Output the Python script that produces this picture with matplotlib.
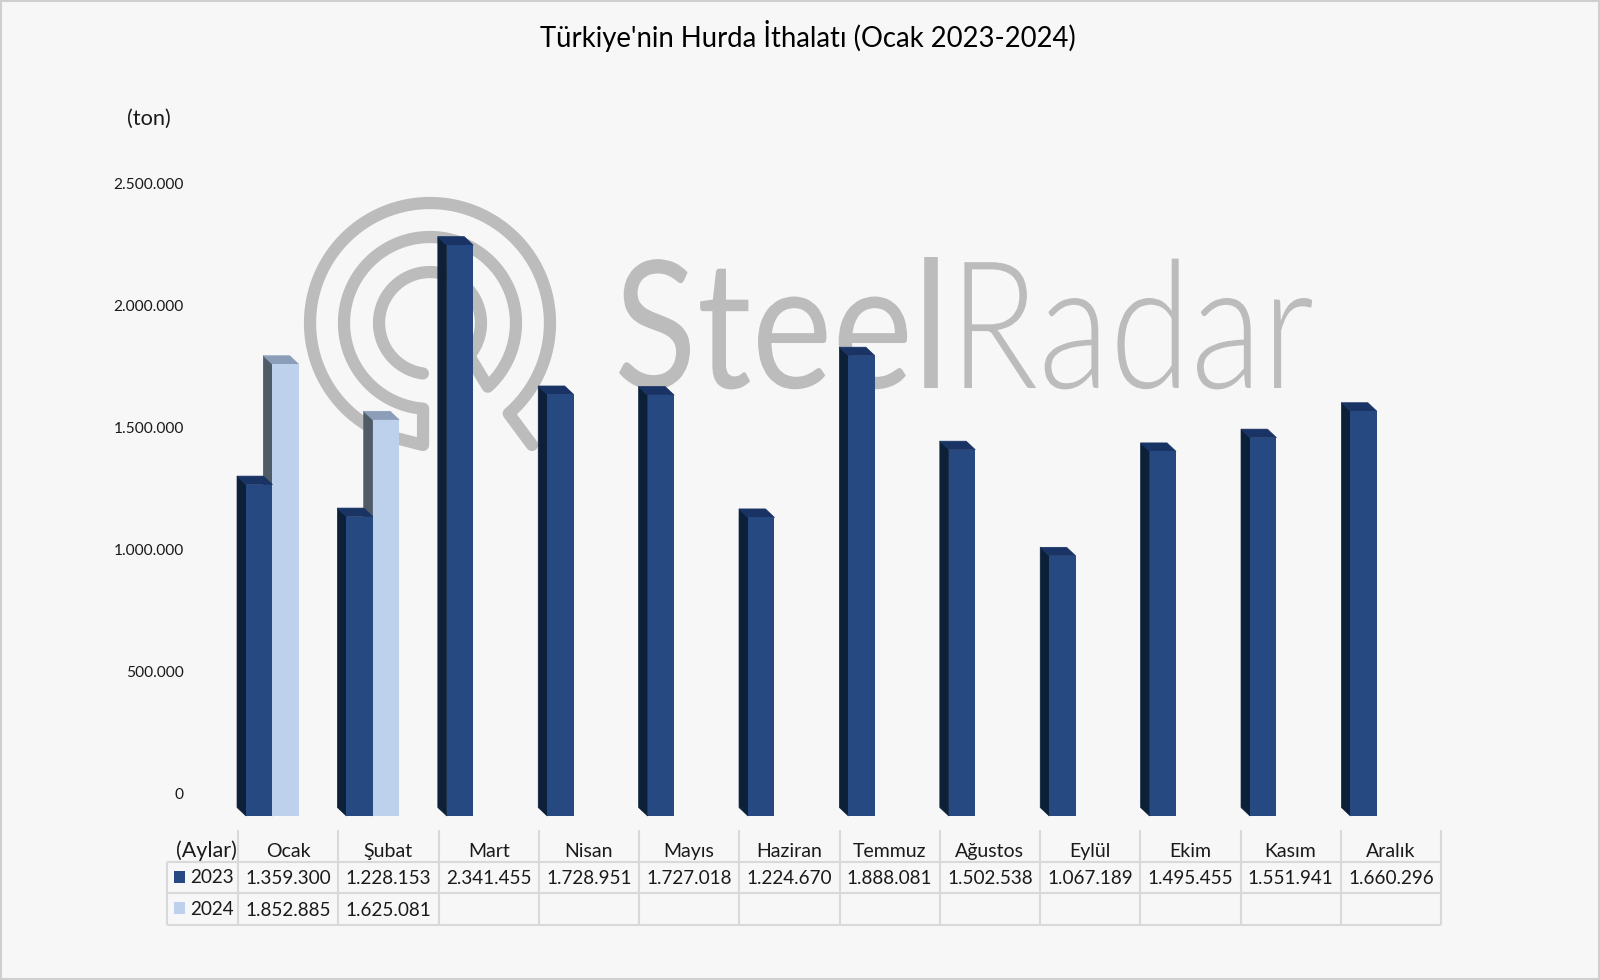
#!/usr/bin/env python3
"""Türkiye'nin hurda ithalatı, Ocak 2023-2024 (Excel tarzı 3B sütun + veri tablosu)"""

import numpy as np
import matplotlib
matplotlib.use('Agg')
import matplotlib.pyplot as plt
from matplotlib.patches import Polygon, Rectangle
from matplotlib.patheffects import AbstractPathEffect
from matplotlib.transforms import Affine2D, ScaledTranslation

plt.rcParams['font.family'] = ['Lato', 'DejaVu Sans']

# data
months = ['Ocak', 'Şubat', 'Mart', 'Nisan', 'Mayıs', 'Haziran', 'Temmuz',
          'Ağustos', 'Eylül', 'Ekim', 'Kasım', 'Aralık']
values_2023 = [1359300, 1228153, 2341455, 1728951, 1727018, 1224670,
               1888081, 1502538, 1067189, 1495455, 1551941, 1660296]
values_2024 = [1852885, 1625081]
y_ticks = [0, 500000, 1000000, 1500000, 2000000, 2500000]

BG = '#f7f7f8'
GRID = '#d9d9d9'
LOGO = '#bcbcbc'
TEXT = '#1a1a1a'
DARK = '#254980'
LIGHT = '#bdd1ec'

# figure pixels
W, H = 1600, 980
COL0, COL_W = 238, 100.25
BAR_PITCH = 100.4
BASE_Y, TOP_Y = 816, 206.5

# 3D look: faces shift left and up
DEPTH_X = 9 / BAR_PITCH
DEPTH_Y = 8.5 * 2500000 / (BASE_Y - TOP_Y)


def dots(n):
    return f'{n:,}'.replace(',', '.')


class Stretch(AbstractPathEffect):
    """stretch the text up from its baseline, the logo lettering is condensed"""

    def __init__(self, sy, y0):
        super().__init__()
        self.sy = sy
        self.y0 = y0

    def draw_path(self, renderer, gc, tpath, affine, rgbFace=None):
        a = affine + Affine2D().translate(0, -self.y0).scale(1, self.sy).translate(0, self.y0)
        renderer.draw_path(gc, tpath, a, rgbFace)


fig = plt.figure(figsize=(W / 100, H / 100), dpi=100, facecolor=BG)

# background layer in pixel coordinates: frame, logo, table, labels
bg = fig.add_axes([0, 0, 1, 1], zorder=0)
bg.set_xlim(0, W)
bg.set_ylim(H, 0)
bg.axis('off')
bg.add_patch(Rectangle((1, 1), W - 2, H - 2, fill=False, ec='#cfcfcf', lw=1.5))

# logo: one spiral stroke
cx, cy = 430, 323


def arc(r, a0, a1):
    t = np.radians(np.linspace(a0, a1, 120))
    return np.column_stack([cx + r * np.cos(t), cy + r * np.sin(t)])


spiral = np.vstack([
    arc(51, 98, 400),
    arc(86, 47.8, -265.4),
    [[423, 445]],
    arc(120, 104, 409),
    [[532, 445]],
])
bg.plot(spiral[:, 0], spiral[:, 1], color=LOGO, lw=8.8,
        solid_capstyle='round', solid_joinstyle='round')

LOGO_BASE = 388
steel = bg.text(614, LOGO_BASE, 'Steel', fontsize=110, color=LOGO, ha='left', va='baseline')
steel.set_path_effects([Stretch(1.164, H - LOGO_BASE)])
radar = bg.text(949, LOGO_BASE, 'Radar', fontsize=106, color=LOGO, ha='left', va='baseline',
                fontweight=300)
radar.set_path_effects([Stretch(1.208, H - LOGO_BASE)])

# title and unit
bg.text(808, 36, "Türkiye'nin Hurda İthalatı (Ocak 2023-2024)", fontsize=19.8,
        color='black', ha='center', va='center')
bg.text(149, 119, '(ton)', fontsize=15.7, color=TEXT, ha='center', va='center')

# chart
ax = fig.add_axes([COL0 / W, 1 - BASE_Y / H, BAR_PITCH * 12 / W, (BASE_Y - TOP_Y) / H], zorder=1)
ax.patch.set_visible(False)
ax.set_xlim(0, 12)
ax.set_ylim(0, 2500000)
for s in ax.spines.values():
    s.set_visible(False)
ax.set_xticks([])
ax.set_yticks(y_ticks)
ax.set_yticklabels([dots(v) for v in y_ticks], fontsize=11.2, color=TEXT)
ax.tick_params(axis='y', length=0, pad=39)
# Excel draws these labels above the front baseline
for lab in ax.get_yticklabels():
    lab.set_transform(lab.get_transform() + ScaledTranslation(0, 23 / 100, fig.dpi_scale_trans))


def bars3d(vals, offset, front, side, top):
    width = 0.263
    x = np.arange(len(vals)) + offset
    for xi, v in zip(x, vals):
        ax.add_patch(Polygon([(xi, 0), (xi - DEPTH_X, DEPTH_Y), (xi - DEPTH_X, v + DEPTH_Y), (xi, v)],
                             fc=side, ec=side, lw=0.5, clip_on=False))
        ax.add_patch(Polygon([(xi, v), (xi - DEPTH_X, v + DEPTH_Y),
                              (xi + width - DEPTH_X, v + DEPTH_Y), (xi + width, v)],
                             fc=top, ec=top, lw=0.5, clip_on=False))
    ax.bar(x, vals, width=width, align='edge', color=front, lw=0)


# light series first, the dark one sits in front of it
bars3d(values_2024, 0.342, LIGHT, '#4f5b66', '#8b9db8')
bars3d(values_2023, 0.08, DARK, '#0c2038', '#193365')

# data table
T_LEFT, T_RIGHT = 167, COL0 + COL_W * 12
H_TOP, R1, R2, R3 = 830, 862, 893, 925
line = dict(color=GRID, lw=1.5, solid_capstyle='butt')
for y in (R1, R2, R3):
    bg.plot([T_LEFT, T_RIGHT], [y, y], **line)
bg.plot([T_LEFT, T_LEFT], [R1, R3], **line)
for k in range(13):
    xk = COL0 + k * COL_W
    bg.plot([xk, xk], [H_TOP, R3], **line)

FS_HEAD = 14
FS_NUM = 13.6
bg.text(206, 851, '(Aylar)', fontsize=15.5, color=TEXT, ha='center', va='center')
for k, m in enumerate(months):
    xc = COL0 + (k + 0.5) * COL_W
    bg.text(xc, 851, m, fontsize=FS_HEAD, color=TEXT, ha='center', va='center')
    bg.text(xc, 878, dots(values_2023[k]), fontsize=FS_NUM, color=TEXT, ha='center', va='center')
    if k < len(values_2024):
        bg.text(xc, 910, dots(values_2024[k]), fontsize=FS_NUM, color=TEXT, ha='center', va='center')

bg.add_patch(Rectangle((174, 871), 11, 12, fc=DARK, lw=0))
bg.add_patch(Rectangle((174, 902), 11, 12, fc=LIGHT, lw=0))
bg.text(190, 877, '2023', fontsize=FS_NUM, color=TEXT, ha='left', va='center')
bg.text(190, 909, '2024', fontsize=FS_NUM, color=TEXT, ha='left', va='center')

fig.savefig('out.png', dpi=100, facecolor=BG)
